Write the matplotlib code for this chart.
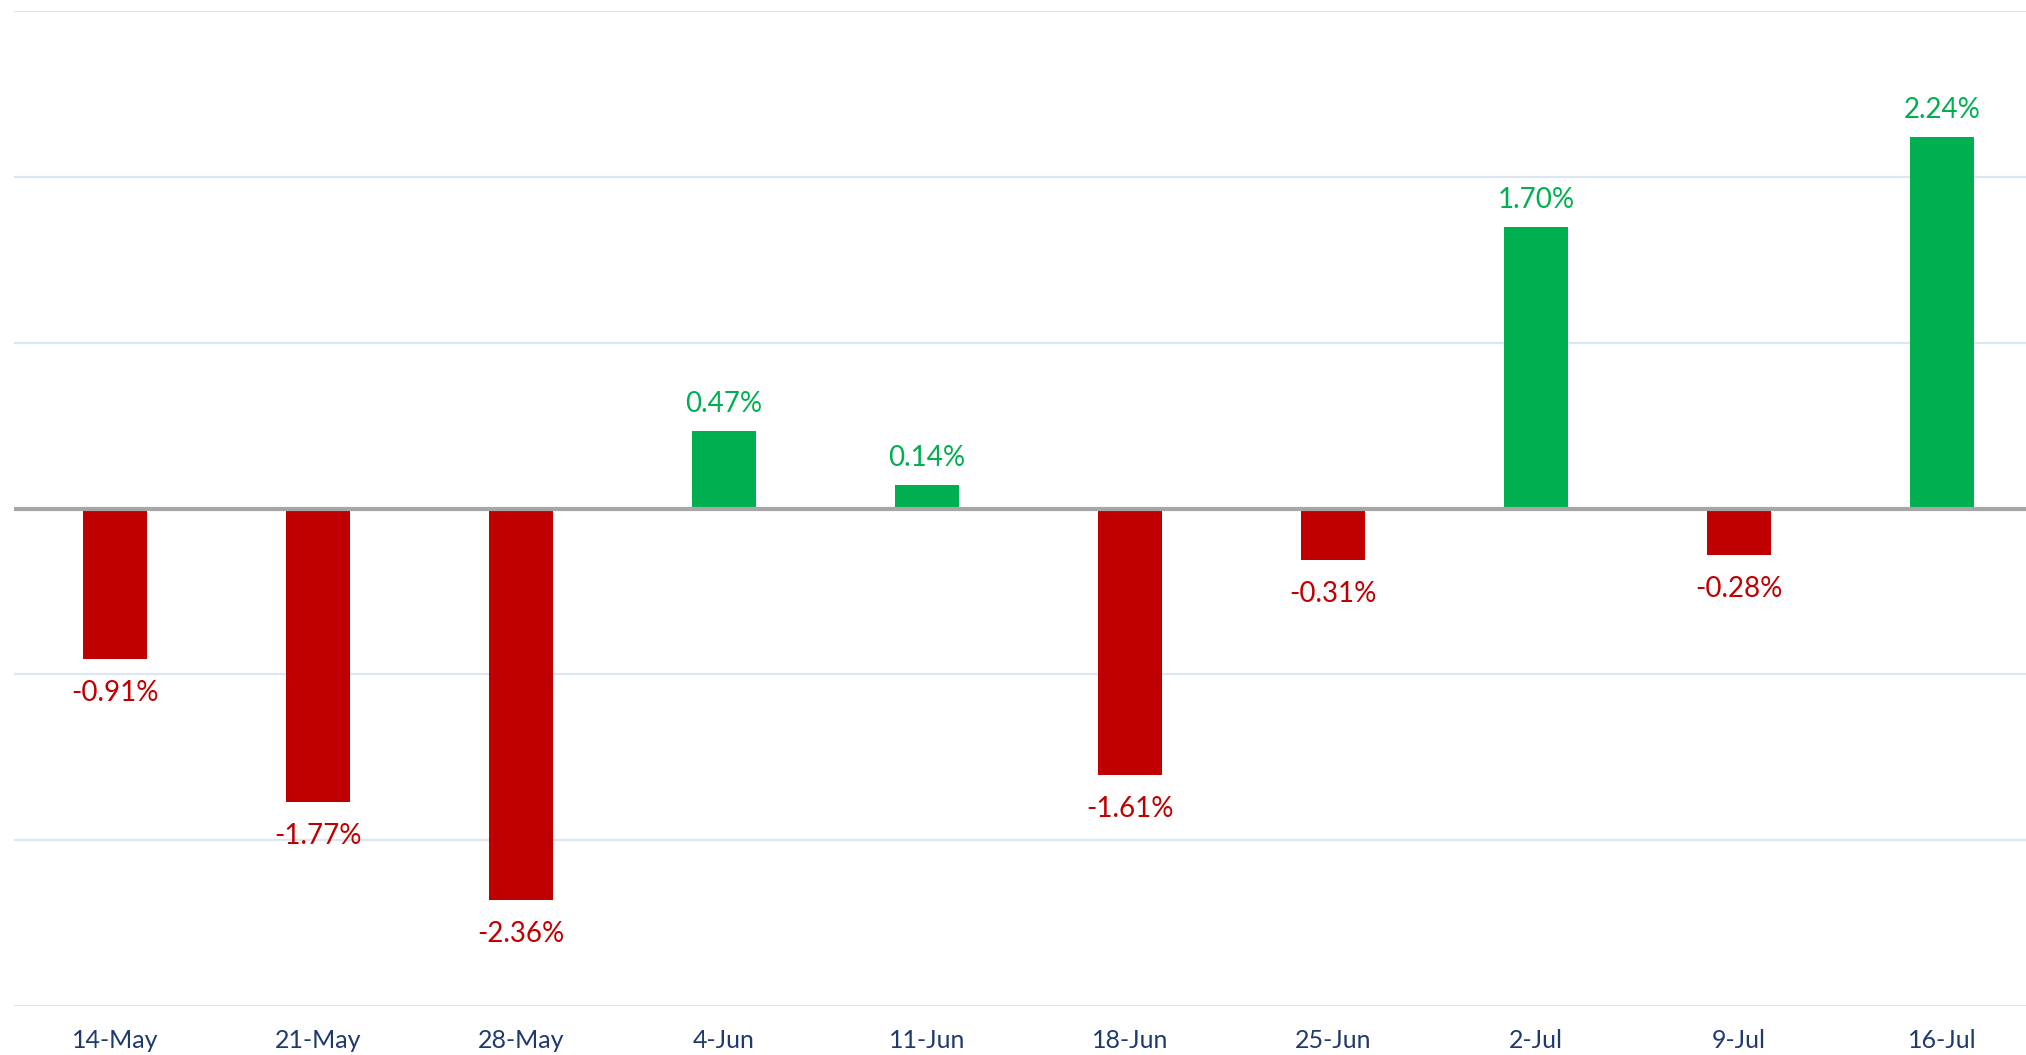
import matplotlib
matplotlib.use("Agg")
import matplotlib.pyplot as plt

categories = ["14-May", "21-May", "28-May", "4-Jun", "11-Jun", "18-Jun", "25-Jun", "2-Jul", "9-Jul", "16-Jul"]
values = [-0.91, -1.77, -2.36, 0.47, 0.14, -1.61, -0.31, 1.70, -0.28, 2.24]

GREEN = "#00B050"
RED = "#C00000"
W, H = 2026, 1055
fig = plt.figure(figsize=(W / 100, H / 100), dpi=100)
left = 13.5 / W
width = 2030 / W
bottom = 49 / H
height = (1006 - 11) / H
ax = fig.add_axes([left, bottom, width, height])

x = list(range(len(categories)))
colors = [GREEN if v >= 0 else RED for v in values]
ax.bar(x, values, width=0.315, color=colors, zorder=2)
ax.set_xlim(-0.5, len(categories) - 0.5)
ax.set_ylim(-3, 3)
ax.set_yticks([-3, -2, -1, 0, 1, 2, 3])
ax.yaxis.grid(True, color="#DCE6F2", linewidth=1.6, zorder=0)
ax.axhline(0, color="#A6A6A6", linewidth=3.0, zorder=3)
ax.tick_params(axis="y", left=False, labelleft=False)
ax.tick_params(axis="x", bottom=False, pad=13, labelsize=18, labelcolor="#1F3A6E")
ax.set_xticks(x)
ax.set_xticklabels(categories, family="Lato")
for s in ax.spines.values():
    s.set_visible(False)

for xi, v, c in zip(x, values, colors):
    off = 14 if v >= 0 else -21
    ax.annotate(f"{v:.2f}%", (xi, v), xytext=(0, off), textcoords="offset pixels",
                ha="center", va="bottom" if v >= 0 else "top", color=c,
                fontsize=20, family="Lato")

fig.savefig("out.png", dpi=100)
